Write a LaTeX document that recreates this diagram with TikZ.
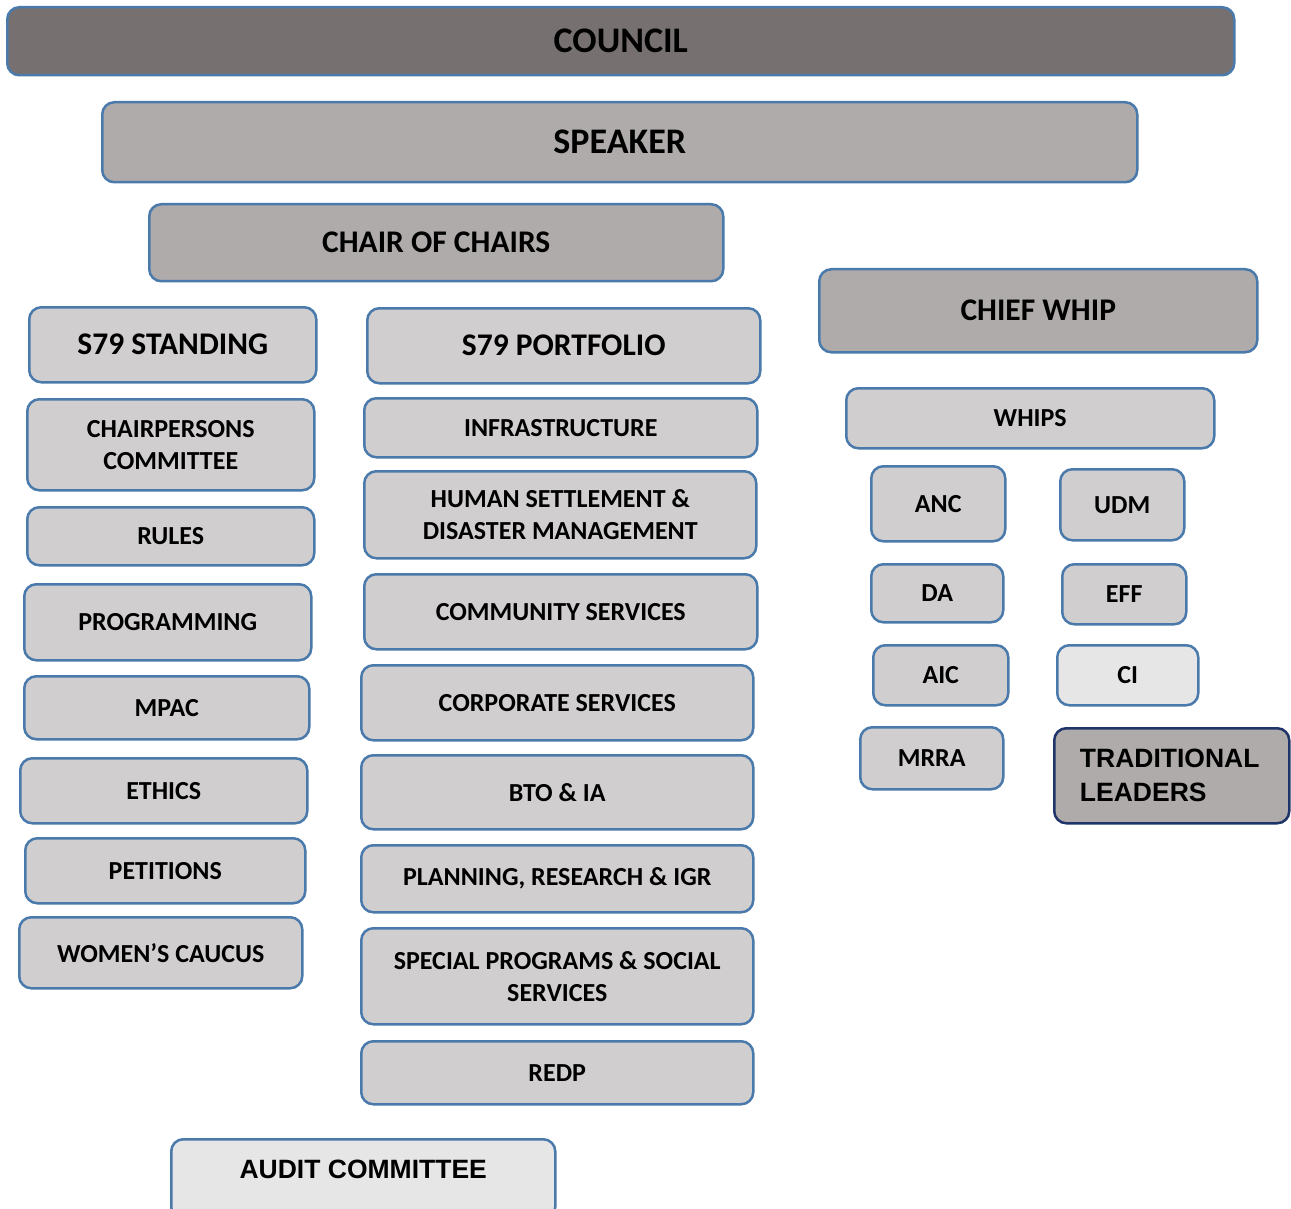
\documentclass[tikz,border=0pt]{standalone}
\usepackage{fontspec}
\setmainfont{Carlito}
\newfontfamily\arialfont{Liberation Sans}
\definecolor{bordblue}{HTML}{4A7AAB}
\definecolor{navyb}{HTML}{1F3468}
\definecolor{darkfill}{HTML}{767170}
\definecolor{midfill}{HTML}{AFABAA}
\definecolor{lightfill}{HTML}{D0CECE}
\definecolor{palefill}{HTML}{E6E6E6}
\tikzset{
  box/.style={draw=bordblue, line width=2.5pt, rounded corners=12pt, fill=lightfill,
    anchor=north west, inner sep=0pt, align=center, font=\bfseries\fontsize{26}{32}\selectfont},
  bigbox/.style={box, font=\bfseries\fontsize{36}{40}\selectfont},
  midbox/.style={box, font=\bfseries\fontsize{31.5}{36}\selectfont},
}
\newcommand{\bx}[6][]{\node[box,#1, minimum width=#4pt, minimum height=#5pt] (#2) at (#3) {#6};}
\begin{document}
\begin{tikzpicture}[x=1pt,y=-1pt]
\useasboundingbox (0,0) rectangle (1291,1209);
% top
\bx[bigbox, fill=darkfill]{council}{6,6}{1227}{68}{\raisebox{-3pt}{COUNCIL}}
\bx[bigbox, fill=midfill]{speaker}{101,101}{1035}{80}{SPEAKER}
\bx[midbox, fill=midfill]{chair}{148,203}{574}{77}{CHAIR OF CHAIRS}
\bx[midbox, fill=midfill]{chiefwhip}{818,268}{438}{83}{CHIEF WHIP}
% left column
\bx[midbox]{standing}{28,306}{287}{75}{S79 STANDING}
\bx{chairpersons}{26,398}{287}{91}{CHAIRPERSONS\\COMMITTEE}
\bx{rules}{26,506}{287}{58}{RULES}
\bx{programming}{23,583}{287}{76}{PROGRAMMING}
\bx{mpac}{23,675}{285}{63}{MPAC}
\bx{ethics}{19,757}{287}{65}{ETHICS}
\bx{petitions}{24,837}{280}{65}{PETITIONS}
\bx{women}{18,916}{283}{71}{WOMEN’S CAUCUS}
% middle column
\bx[midbox]{portfolio}{366,307}{393}{75}{S79 PORTFOLIO}
\bx{infra}{363,397}{393}{59}{INFRASTRUCTURE}
\bx{human}{363,470}{392}{87}{HUMAN SETTLEMENT \&\\DISASTER MANAGEMENT}
\bx{community}{363,573}{393}{75}{COMMUNITY SERVICES}
\bx{corporate}{360,664}{392}{75}{CORPORATE SERVICES}
\bx{bto}{360,754}{392}{74}{BTO \& IA}
\bx{planning}{360,844}{392}{67}{PLANNING, RESEARCH \& IGR}
\bx{special}{360,927}{392}{96}{SPECIAL PROGRAMS \& SOCIAL\\SERVICES}
\bx{redp}{360,1040}{392}{63}{REDP}
\bx[fill=palefill, font=\arialfont\bfseries\fontsize{26.5}{30}\selectfont]{audit}{170,1138}{384}{80}{\raisebox{20pt}{AUDIT COMMITTEE}}
% right column
\bx{whips}{845,387}{368}{60}{WHIPS}
\bx{anc}{870,465}{134}{75}{ANC}
\bx{udm}{1059,468}{124}{71}{UDM}
\bx{da}{870,563}{132}{58}{DA}
\bx{eff}{1061,563}{124}{60}{EFF}
\bx{aic}{872,644}{135}{60}{AIC}
\bx[fill=palefill]{ci}{1056,644}{141}{60}{CI}
\bx{mrra}{859,726}{143}{62}{MRRA}
\bx[fill=midfill, draw=navyb, align=left, font=\arialfont\bfseries\fontsize{26.5}{34}\selectfont]{trad}{1053,727}{235}{95}{\hspace{-4pt}TRADITIONAL\\\hspace{-4pt}LEADERS}
\end{tikzpicture}
\end{document}
